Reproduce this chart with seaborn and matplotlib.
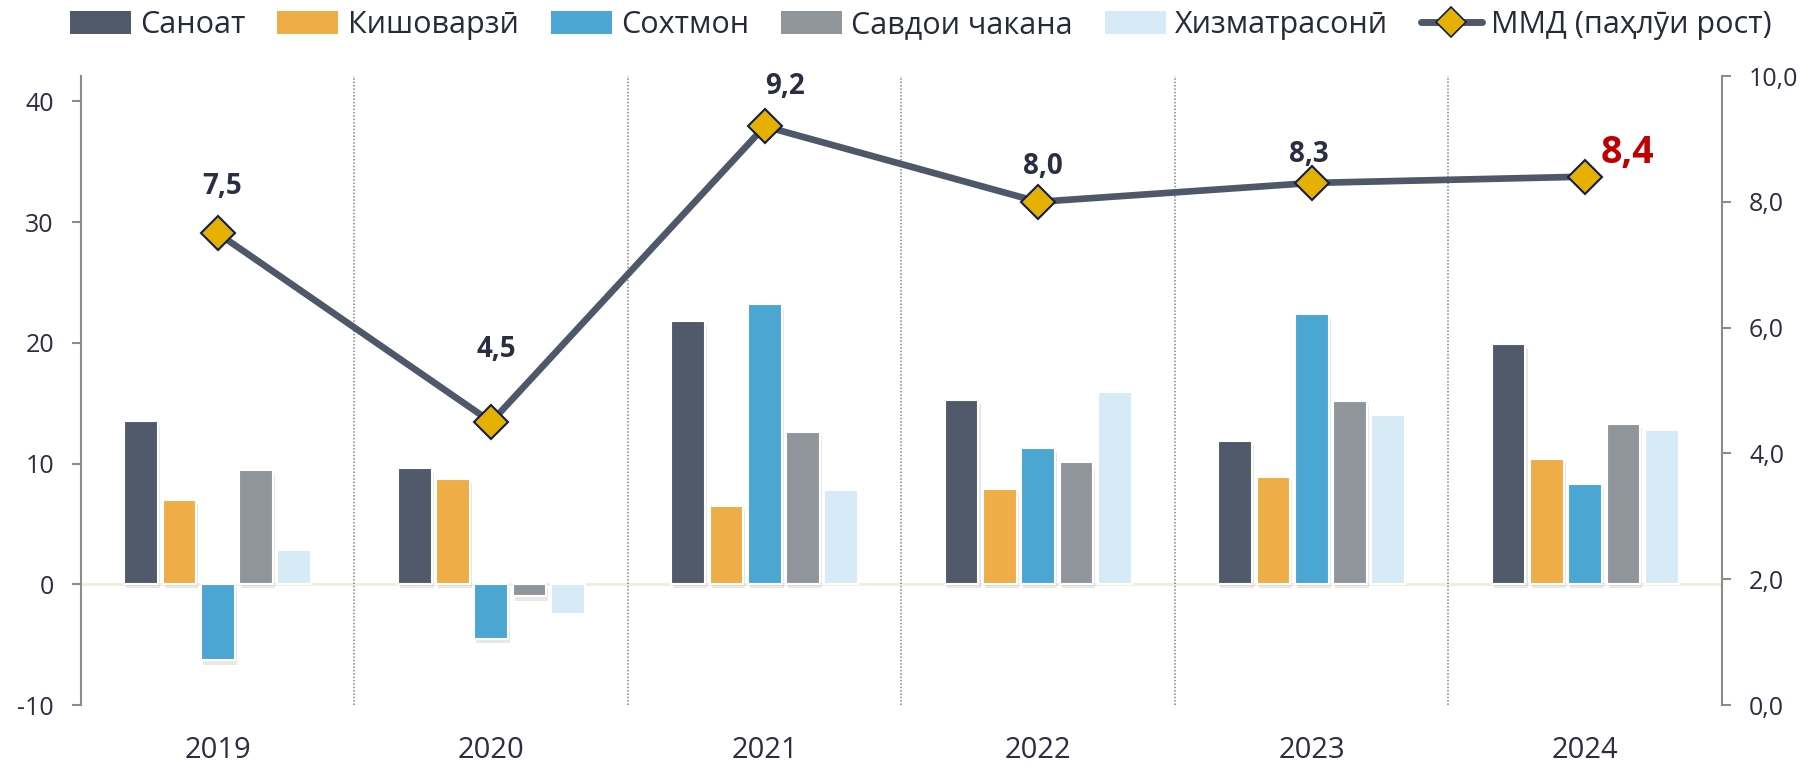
import numpy as np
import pandas as pd
import matplotlib
matplotlib.use("Agg")
import matplotlib.pyplot as plt
import seaborn as sns
from matplotlib import patheffects as pe
from matplotlib.patches import Patch
from matplotlib.lines import Line2D

# ---------------- data ----------------
years = ["2019", "2020", "2021", "2022", "2023", "2024"]
sectors = ["Саноат", "Кишоварзӣ", "Сохтмон", "Савдои чакана", "Хизматрасонӣ"]
sanoat = [13.5, 9.6, 21.8, 15.3, 11.9, 19.9]
kishovarzi = [7.0, 8.7, 6.5, 7.9, 8.9, 10.4]
sokhtmon = [-6.3, -4.5, 23.2, 11.3, 22.4, 8.3]
savdo = [9.5, -1.0, 12.6, 10.1, 15.2, 13.3]
khizmat = [2.8, -2.5, 7.8, 15.9, 14.0, 12.8]
gdp = [7.5, 4.5, 9.2, 8.0, 8.3, 8.4]
gdp_labels = ["7,5", "4,5", "9,2", "8,0", "8,3", "8,4"]
line_name = "ММД (паҳлӯи рост)"
left_ticks = [-10, 0, 10, 20, 30, 40]
right_ticks = [0, 2, 4, 6, 8, 10]

# ---------------- style ----------------
colors = ["#505A6B", "#EFAD47", "#4BA6D4", "#91959C", "#D7EBF6"]
line_color = "#4F5868"
marker_face = "#E6B000"
marker_edge = "#0F1F4F"
text_color = "#2B2D42"
spine_color = "#8C8C8C"

sns.set_theme(style="white")
plt.rcParams["font.family"] = ["Open Sans", "DejaVu Sans"]

series = [sanoat, kishovarzi, sokhtmon, savdo, khizmat]
df = pd.DataFrame({
    "year": np.repeat([years], len(sectors), axis=0).ravel(),
    "sector": np.repeat(sectors, len(years)),
    "value": np.concatenate(series),
})
df_line = pd.DataFrame({"year": years, "gdp": gdp})

fig = plt.figure(figsize=(18.12, 7.68), dpi=100)
ax = fig.add_axes([0.0447, 0.082, 0.9056, 0.819])

sns.barplot(data=df, x="year", y="value", hue="sector", order=years,
            hue_order=sectors, palette=colors, saturation=1,
            width=0.70, gap=0.12, edgecolor="white", linewidth=1.5,
            legend=False, ax=ax, zorder=3)

shadow = [pe.SimplePatchShadow(offset=(1.5, -3), shadow_rgbFace="#9a9a9a", alpha=0.22),
          pe.Normal()]
for cont in ax.containers[:4]:
    for p in cont:
        p.set_path_effects(shadow)

ax.axhline(0, color="#F2ECDD", lw=2, zorder=1)
for b in np.arange(0.5, len(years) - 1, 1.0):
    ax.axvline(b, color="#7d8494", ls=(0, (1, 1.2)), lw=1.1, zorder=1)

ax.set_ylim(-10, 42.1)
ax.set_yticks(left_ticks)
ax.set_yticklabels([str(t) for t in left_ticks])
ax.set_xlabel("")
ax.set_ylabel("")
for s in ["top", "right", "bottom"]:
    ax.spines[s].set_visible(False)
ax.spines["left"].set_color(spine_color)
ax.spines["left"].set_linewidth(1.5)
ax.tick_params(axis="y", direction="out", length=6.5, width=1.5, color=spine_color,
               labelsize=18, pad=13, labelcolor=text_color, left=True)
ax.tick_params(axis="x", length=0, labelsize=21, pad=22, labelcolor=text_color)

ax2 = ax.twinx()
sns.pointplot(data=df_line, x="year", y="gdp", order=years, ax=ax2,
              color=line_color, markers="D", linestyles="-",
              markersize=17, markerfacecolor=marker_face,
              markeredgecolor=marker_edge, markeredgewidth=1.5,
              linewidth=4.8, zorder=5)
ax2.set_ylim(0, 10)
ax2.set_yticks(right_ticks)
ax2.set_yticklabels([f"{t:.1f}".replace(".", ",") for t in right_ticks])
ax2.set_ylabel("")
ax2.set_xlabel("")
for s in ["top", "left", "bottom"]:
    ax2.spines[s].set_visible(False)
ax2.spines["right"].set_color(spine_color)
ax2.spines["right"].set_linewidth(1.5)
ax2.tick_params(axis="y", direction="out", length=6.5, width=1.5, color=spine_color,
                labelsize=18, pad=13, labelcolor=text_color, right=True)
ax.set_xlim(-0.5, len(years) - 0.5)
ax2.set_xlim(-0.5, len(years) - 0.5)

# value labels (offsets in pixels)
offsets = [(4, 47), (5, 72), (20, 40), (5, 35), (-3, 28)]
for i, (v, lab) in enumerate(zip(gdp, gdp_labels)):
    if i < len(gdp) - 1:
        dx, dy = offsets[i]
        ax2.annotate(lab, (i, v), xytext=(dx, dy), textcoords="offset pixels",
                     ha="center", va="center", fontsize=20, fontweight="bold",
                     color=text_color, zorder=6)
    else:
        ax2.annotate(lab, (i, v), xytext=(15, 24), textcoords="offset pixels",
                     ha="left", va="center", fontsize=27, fontweight="bold",
                     color="#C00000", zorder=6)

handles = [Patch(facecolor=c, edgecolor="none") for c in colors]
handles.append(Line2D([], [], color=line_color, lw=5, marker="D", markersize=15,
                      markerfacecolor=marker_face, markeredgecolor=marker_edge,
                      markeredgewidth=1.2))
leg = fig.legend(handles, sectors + [line_name], loc="center",
                 bbox_to_anchor=(0.508, 0.967), ncol=6, frameon=False,
                 fontsize=22, handlelength=2.0, handleheight=0.75,
                 columnspacing=1.05, handletextpad=0.3)
for t in leg.get_texts():
    t.set_color("#262B3A")

fig.savefig("out.png", dpi=100)
